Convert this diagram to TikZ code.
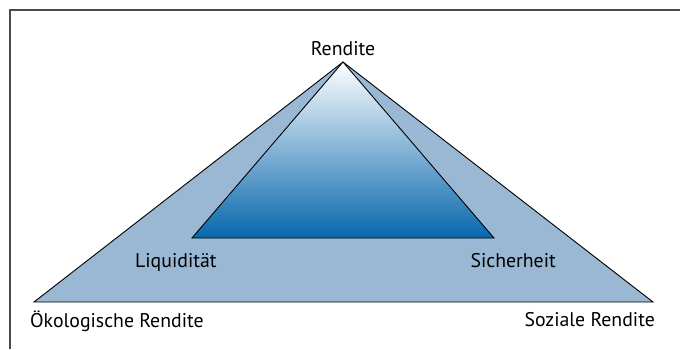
\documentclass[tikz,border=0pt]{standalone}
\usepackage{fontspec}
\setmainfont{PT Sans}
\definecolor{outerblue}{HTML}{9AB8D3}
\definecolor{innerblue}{HTML}{0767AC}
\definecolor{framegray}{HTML}{4A4A4A}
\begin{document}
\begin{tikzpicture}[x=1pt,y=-1pt,
  lbl/.style={font=\fontsize{19.8}{22}\selectfont, inner sep=0pt},
  edge/.style={draw=black, line width=0.9pt, line join=miter}]
\useasboundingbox (0,0) rectangle (680,349);
% frame
\draw[framegray, line width=1.6pt] (10,349) -- (10,10) -- (681,10);
% vertices
\coordinate (top) at (343,62);
\coordinate (oL) at (34,302);
\coordinate (oR) at (653,302);
\coordinate (iL) at (192,238);
\coordinate (iR) at (494,238);
% outer triangle
\fill[outerblue] (top) -- (oL) -- (oR) -- cycle;
\draw[edge] (top) -- (oL) -- (oR) -- cycle;
% inner triangle with gradient
\path[top color=white, bottom color=innerblue] (top) -- (iL) -- (iR) -- cycle;
\draw[edge] (top) -- (iL) -- (iR) -- cycle;
% labels
\node[lbl, anchor=base] (rendite) at (343,55) {Rendite};
\node[lbl, anchor=base west] (liq) at (135,267) {Liquidität};
\node[lbl, anchor=base east] (sich) at (556,267) {Sicherheit};
\node[lbl, anchor=base west] (oeko) at (30,327) {Ökologische Rendite};
\node[lbl, anchor=base east] (soz) at (655,326) {Soziale Rendite};
\end{tikzpicture}
\end{document}
